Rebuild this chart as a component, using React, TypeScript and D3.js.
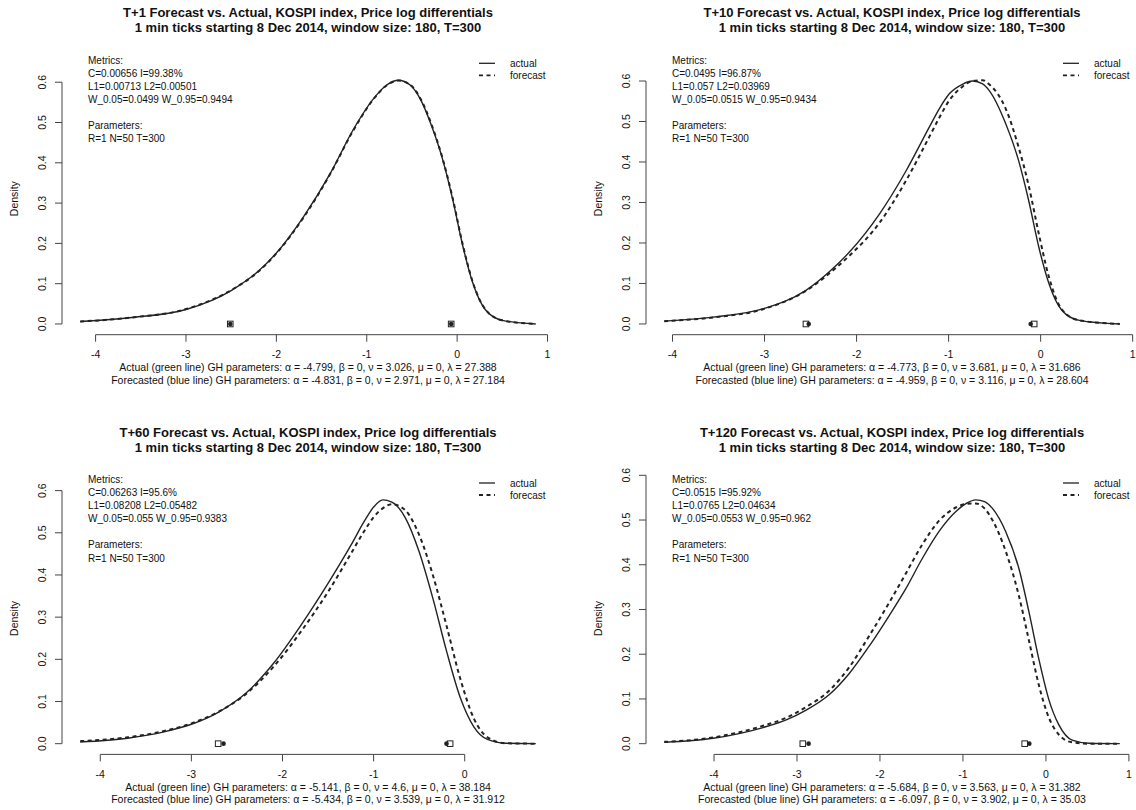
import React, { useEffect, useRef } from "react";
import * as d3 from "d3";

// ---- data ----
const horizons = ["T+1", "T+10", "T+60", "T+120"];
const titleTail = " Forecast vs. Actual, KOSPI index, Price log differentials";
const subtitle = "1 min ticks starting 8 Dec 2014, window size: 180, T=300";

const t1X = [-4.17, -3.6, -3.0, -2.5, -2.2, -2.0, -1.7, -1.4, -1.15, -0.9, -0.78, -0.65, -0.52, -0.4, -0.28, -0.16, -0.05, 0.06, 0.17, 0.31, 0.5, 0.87];
const t1Actual = [0.006, 0.016, 0.036, 0.083, 0.131, 0.176, 0.266, 0.375, 0.482, 0.566, 0.593, 0.605, 0.593, 0.555, 0.49, 0.408, 0.31, 0.196, 0.104, 0.036, 0.009, 0];
const t1Forecast = [0.006, 0.016, 0.037, 0.084, 0.13, 0.175, 0.264, 0.374, 0.48, 0.565, 0.592, 0.604, 0.594, 0.557, 0.493, 0.41, 0.313, 0.199, 0.106, 0.037, 0.009, 0];

const t10X = [-4.09, -3.56, -3.01, -2.55, -2.29, -2.08, -1.75, -1.46, -1.21, -1.1, -0.99, -0.85, -0.74, -0.63, -0.56, -0.38, -0.24, -0.13, -0.02, 0.09, 0.23, 0.42, 0.86];
const t10Actual = [0.007, 0.017, 0.038, 0.083, 0.13, 0.177, 0.272, 0.379, 0.486, 0.532, 0.569, 0.592, 0.6, 0.593, 0.577, 0.495, 0.404, 0.305, 0.19, 0.1, 0.034, 0.009, 0];
const t10Forecast = [0.007, 0.016, 0.037, 0.082, 0.126, 0.168, 0.25, 0.355, 0.462, 0.51, 0.553, 0.586, 0.6, 0.602, 0.592, 0.532, 0.437, 0.342, 0.223, 0.116, 0.036, 0.009, 0];

const t60X = [-4.22, -3.7, -3.3, -3.0, -2.7, -2.4, -2.1, -1.8, -1.5, -1.25, -1.1, -1.0, -0.9, -0.8, -0.65, -0.5, -0.35, -0.2, -0.05, 0.1, 0.25, 0.45, 0.78];
const t60Actual = [0.004, 0.013, 0.028, 0.046, 0.075, 0.12, 0.19, 0.28, 0.38, 0.47, 0.528, 0.561, 0.578, 0.573, 0.535, 0.455, 0.345, 0.22, 0.11, 0.04, 0.01, 0.001, 0];
const t60Forecast = [0.006, 0.015, 0.03, 0.048, 0.076, 0.118, 0.182, 0.265, 0.36, 0.45, 0.505, 0.537, 0.558, 0.568, 0.553, 0.495, 0.4, 0.28, 0.155, 0.06, 0.015, 0.001, 0];

const t120X = [-4.6, -4.01, -3.41, -3.13, -2.89, -2.61, -2.37, -2.13, -1.89, -1.69, -1.49, -1.29, -1.085, -0.96, -0.845, -0.74, -0.645, -0.484, -0.325, -0.204, -0.084, 0.036, 0.156, 0.316, 0.52, 0.89];
const t120Actual = [0.003, 0.012, 0.036, 0.053, 0.075, 0.11, 0.157, 0.218, 0.286, 0.346, 0.414, 0.474, 0.519, 0.537, 0.545, 0.541, 0.526, 0.474, 0.391, 0.294, 0.188, 0.098, 0.042, 0.008, 0.001, 0];
const t120Forecast = [0.004, 0.014, 0.04, 0.058, 0.082, 0.119, 0.171, 0.241, 0.315, 0.38, 0.445, 0.498, 0.528, 0.536, 0.537, 0.526, 0.5, 0.43, 0.33, 0.23, 0.13, 0.058, 0.02, 0.003, 0, 0];

// 5% / 95% quantile markers (circle = actual, square = forecast)
const quantActual = [[-2.51, -0.066], [-2.52, -0.108], [-2.647, -0.2], [-2.86, -0.2]];
const quantForecast = [[-2.51, -0.066], [-2.55, -0.07], [-2.706, -0.16], [-2.93, -0.256]];

const metricsC = ["C=0.00656 I=99.38%", "C=0.0495 I=96.87%", "C=0.06263 I=95.6%", "C=0.0515 I=95.92%"];
const metricsL = ["L1=0.00713 L2=0.00501", "L1=0.057 L2=0.03969", "L1=0.08208 L2=0.05482", "L1=0.0765 L2=0.04634"];
const metricsW = ["W_0.05=0.0499 W_0.95=0.9494", "W_0.05=0.0515 W_0.95=0.9434", "W_0.05=0.055 W_0.95=0.9383", "W_0.05=0.0553 W_0.95=0.962"];
const paramsLine = "R=1 N=50 T=300";

const actualGH = [
  "α = -4.799, β = 0, ν = 3.026, μ = 0, λ = 27.388",
  "α = -4.773, β = 0, ν = 3.681, μ = 0, λ = 31.686",
  "α = -5.141, β = 0, ν = 4.6, μ = 0, λ = 38.184",
  "α = -5.684, β = 0, ν = 3.563, μ = 0, λ = 31.382",
];
const forecastGH = [
  "α = -4.831, β = 0, ν = 2.971, μ = 0, λ = 27.184",
  "α = -4.959, β = 0, ν = 3.116, μ = 0, λ = 28.604",
  "α = -5.434, β = 0, ν = 3.539, μ = 0, λ = 31.912",
  "α = -6.097, β = 0, ν = 3.902, μ = 0, λ = 35.03",
];

const xs = [t1X, t10X, t60X, t120X];
const actuals = [t1Actual, t10Actual, t60Actual, t120Actual];
const forecasts = [t1Forecast, t10Forecast, t60Forecast, t120Forecast];

const FONT = "'Liberation Sans', Arial, sans-serif";
const PLOT_W = 492;
const PLOT_H = 289.6;
const YLIM_PAD = 1.1; // ylim = c(0, 1.1 * max density)
const lefts = [62, 646, 62, 646];
const bottoms = [334.7, 334.7, 754.4, 754.4];

function drawPanel(svg, i) {
  const left = lefts[i];
  const bottom = bottoms[i];
  const top = bottom - PLOT_H;
  const cx = left + PLOT_W / 2;
  const xv = xs[i];
  const [xmin, xmax] = d3.extent(xv);
  const xr = xmax - xmin;
  const ytop = YLIM_PAD * d3.max([...actuals[i], ...forecasts[i]]);

  const x = d3.scaleLinear().domain([xmin - 0.04 * xr, xmax + 0.04 * xr]).range([left, left + PLOT_W]);
  const y = d3.scaleLinear().domain([-0.04 * ytop, 1.04 * ytop]).range([bottom, top]);

  const g = svg.append("g").attr("font-family", FONT).attr("fill", "#111");

  // titles
  g.append("text").attr("x", cx).attr("y", bottom - 317.6).attr("text-anchor", "middle")
    .attr("font-size", 13).attr("font-weight", "bold").text(horizons[i] + titleTail);
  g.append("text").attr("x", cx).attr("y", bottom - 302.4).attr("text-anchor", "middle")
    .attr("font-size", 13).attr("font-weight", "bold").text(subtitle);

  // x axis
  const xt = x.ticks(5).filter(t => t >= x.domain()[0] && t <= x.domain()[1]);
  g.append("line").attr("x1", x(xt[0])).attr("x2", x(xt[xt.length - 1]))
    .attr("y1", bottom).attr("y2", bottom).attr("stroke", "#444");
  g.selectAll(".xt").data(xt).join("line").attr("class", "xt")
    .attr("x1", d => x(d)).attr("x2", d => x(d)).attr("y1", bottom).attr("y2", bottom + 7).attr("stroke", "#444");
  g.selectAll(".xl").data(xt).join("text").attr("class", "xl")
    .attr("x", d => x(d)).attr("y", bottom + 23.5).attr("text-anchor", "middle").attr("font-size", 10.5)
    .text(d => String(d));

  // y axis
  const yt = y.ticks(6).filter(t => t >= -1e-9 && t <= y.domain()[1] + 1e-9);
  g.append("line").attr("x1", left).attr("x2", left)
    .attr("y1", y(yt[0])).attr("y2", y(yt[yt.length - 1])).attr("stroke", "#444");
  g.selectAll(".yt").data(yt).join("line").attr("class", "yt")
    .attr("x1", left - 7).attr("x2", left).attr("y1", d => y(d)).attr("y2", d => y(d)).attr("stroke", "#444");
  g.selectAll(".yl").data(yt).join("text").attr("class", "yl")
    .attr("transform", d => `translate(${left - 16},${y(d)}) rotate(-90)`)
    .attr("text-anchor", "middle").attr("font-size", 10.5)
    .text(d => d.toFixed(1));
  g.append("text").attr("transform", `translate(${left - 44.5},${bottom - 136}) rotate(-90)`)
    .attr("text-anchor", "middle").attr("font-size", 10.5).text("Density");

  // curves
  const line = d3.line().x(d => x(d[0])).y(d => y(d[1])).curve(d3.curveMonotoneX);
  g.append("path").attr("d", line(xv.map((v, k) => [v, actuals[i][k]])))
    .attr("fill", "none").attr("stroke", "#222").attr("stroke-width", 1.4);
  g.append("path").attr("d", line(xv.map((v, k) => [v, forecasts[i][k]])))
    .attr("fill", "none").attr("stroke", "#222").attr("stroke-width", 2).attr("stroke-dasharray", "4,3.5");

  // quantile markers
  g.selectAll(".qf").data(quantForecast[i]).join("rect").attr("class", "qf")
    .attr("x", d => x(d) - 2.8).attr("y", y(0) - 2.8).attr("width", 5.6).attr("height", 5.6)
    .attr("fill", "none").attr("stroke", "#222").attr("stroke-width", 1);
  g.selectAll(".qa").data(quantActual[i]).join("circle").attr("class", "qa")
    .attr("cx", d => x(d)).attr("cy", y(0)).attr("r", 2.3).attr("fill", "#222");

  // metrics text block
  const mx = left + 26;
  const lines = ["Metrics:", metricsC[i], metricsL[i], metricsW[i], "", "Parameters:", paramsLine];
  g.selectAll(".mt").data(lines).join("text").attr("class", "mt")
    .attr("x", mx).attr("y", (d, k) => bottom - 271.2 + k * 13.05).attr("font-size", 10).text(d => d);

  // legend
  const lx = left + PLOT_W - 44;
  const legend = [{ label: "actual", dash: null }, { label: "forecast", dash: "4,3.5" }];
  legend.forEach((item, k) => {
    const ly = bottom - 271.4 + k * 12;
    g.append("line").attr("x1", lx - 31).attr("x2", lx - 15).attr("y1", ly).attr("y2", ly)
      .attr("stroke", "#222").attr("stroke-width", item.dash ? 1.8 : 1.3)
      .attr("stroke-dasharray", item.dash);
    g.append("text").attr("x", lx).attr("y", ly + 3.5).attr("font-size", 10).text(item.label);
  });

  // GH parameter lines
  g.append("text").attr("x", cx).attr("y", bottom + 36.5).attr("text-anchor", "middle").attr("font-size", 10.5)
    .text("Actual (green line) GH parameters: " + actualGH[i]);
  g.append("text").attr("x", cx).attr("y", bottom + 49).attr("text-anchor", "middle").attr("font-size", 10.5)
    .text("Forecasted (blue line) GH parameters: " + forecastGH[i]);
}

export default function App() {
  const svgRef = useRef(null);

  useEffect(() => {
    const svg = d3.select(svgRef.current);
    svg.selectAll("*").remove();
    for (let i = 0; i < 4; i++) drawPanel(svg, i);
  }, []);

  return (
    <svg
      ref={svgRef}
      width={1136}
      height={810}
      style={{ position: "absolute", left: 0, top: 0, background: "#fff" }}
    />
  );
}
